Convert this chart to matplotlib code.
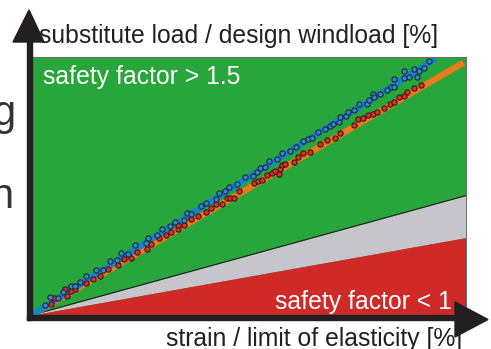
import matplotlib
matplotlib.use("Agg")
import matplotlib.pyplot as plt
from matplotlib.patches import Polygon

plt.rcParams['font.family'] = ['Liberation Sans', 'DejaVu Sans']

W, H = 491, 349

# measured points (strain %, load %)
blue_x = [3.1, 4.1, 6.1, 7.2, 9.1, 10.0, 11.1, 12.4, 14.7, 16.3, 17.9, 19.7, 20.4, 22.1, 23.8,
          26.7, 26.3, 28.7, 30.0, 31.8, 33.0, 35.0, 35.8, 36.6, 38.9, 40.0, 42.3, 43.2, 44.5, 45.3, 47.2,
          49.0, 50.9, 51.9, 52.5, 53.8, 54.7, 56.5, 57.7, 59.4, 60.8, 62.5, 63.6, 64.5, 65.9, 67.4, 68.6,
          69.3, 70.8, 71.0, 72.3, 72.8, 74.2, 75.3, 77.1, 77.6, 78.5, 78.8, 80.2, 81.8, 82.7, 83.4, 83.3,
          85.6, 85.6, 86.9, 88.0, 88.8, 89.2, 90.4, 91.4]
blue_y = [4.0, 7.1, 6.6, 8.8, 11.4, 11.4, 12.9, 15.0, 17.4, 17.6, 20.9, 21.4, 23.9, 23.6, 27.1,
          29.7, 27.9, 30.9, 33.5, 34.6, 36.0, 36.8, 39.4, 39.1, 42.4, 43.5, 44.8, 47.2, 47.9, 49.6, 50.9,
          53.6, 54.0, 55.6, 57.1, 57.4, 59.8, 60.6, 62.8, 63.7, 65.2, 67.6, 68.2, 68.6, 71.0, 72.1, 73.3,
          74.2, 74.9, 76.9, 77.0, 78.8, 79.6, 81.8, 81.8, 83.3, 85.7, 84.5, 85.5, 87.3, 88.4, 88.4, 91.5,
          92.0, 94.7, 92.2, 95.5, 92.4, 94.7, 95.9, 98.4]

red_x = [4.3, 5.1, 7.5, 8.1, 8.9, 9.8, 12.5, 14.0, 15.7, 17.6, 19.8, 21.3, 22.7, 24.3,
         26.5, 27.4, 29.2, 30.9, 32.0, 33.6, 33.6, 35.0, 36.7, 38.2, 40.1, 41.2, 42.4, 43.8, 44.9, 45.6,
         46.5, 47.8, 51.2, 52.0, 53.0, 54.1, 55.2, 55.9, 56.9, 57.1, 57.5, 58.4, 60.3, 61.2, 62.5, 64.1,
         66.4, 68.0, 69.8, 71.0, 74.1, 75.2, 76.3, 77.4, 78.6, 79.5, 81.0, 82.5, 83.3, 84.6, 85.8, 86.5,
         88.0, 89.7]
red_y = [4.4, 6.6, 10.1, 7.5, 9.2, 10.0, 12.4, 14.1, 15.2, 17.7, 19.5, 21.8, 22.0, 24.5,
         25.7, 27.5, 29.7, 31.0, 32.2, 33.3, 34.9, 35.0, 37.2, 38.5, 40.0, 41.6, 43.1, 43.1, 45.3, 45.3,
         45.3, 47.9, 51.0, 52.1, 52.4, 54.4, 55.2, 55.9, 54.8, 56.5, 58.3, 58.6, 59.2, 61.2, 62.7, 63.1,
         66.3, 67.9, 68.5, 70.4, 73.6, 75.9, 76.5, 77.6, 77.8, 78.8, 80.4, 81.7, 82.6, 84.5, 85.0, 86.6,
         88.1, 89.0]

# fitted lines (start, end)
blue_line_x = [0, 93.1]
blue_line_y = [0, 99.5]
orange_line_x = [0, 99.4]
orange_line_y = [0, 97.8]

# zone limits at x = 100
zone_x = [0, 100]
red_top = [0, 30.0]
gray_top = [0, 46.3]

fig = plt.figure(figsize=(W / 100, H / 100), dpi=100)
bx0, bx1, by0, by1 = 32, 466, 315, 57
ax = fig.add_axes([bx0 / W, 1 - by0 / H, (bx1 - bx0) / W, (by0 - by1) / H])
ax.set_xlim(0, 100)
ax.set_ylim(0, 100)
ax.set_facecolor('#27a63b')
ax.set_xticks([])
ax.set_yticks([])
for s in ax.spines.values():
    s.set_color('#707070')
    s.set_linewidth(0.8)

ax.fill_between(zone_x, red_top, gray_top, color='#c6c5cb', lw=0)
ax.fill_between(zone_x, [0, 0], red_top, color='#cf2a27', lw=0)
ax.plot(zone_x, gray_top, color='#231f20', lw=0.8)

ax.plot(orange_line_x, orange_line_y, color='#ec7a1c', lw=4.5, solid_capstyle='butt')
ax.plot(blue_line_x, blue_line_y, color='#1583cc', lw=4.5, solid_capstyle='butt')
ax.plot(red_x, red_y, 'o', ms=3.8, mfc='#d8302a', mec='#3a1a1a', mew=0.8)
ax.plot(blue_x, blue_y, 'o', ms=3.8, mfc='#2f86c8', mec='#1f2a36', mew=0.8)


def fx(x):
    return x / W


def fy(y):
    return 1 - y / H


dark = '#231f20'
fs = 17.8
# axis arrows
fig.add_artist(Polygon([(fx(27), fy(320)), (fx(32), fy(320)), (fx(32), fy(41)), (fx(27), fy(41))],
                       closed=True, color=dark, transform=fig.transFigure))
fig.add_artist(Polygon([(fx(13), fy(42)), (fx(44), fy(42)), (fx(29), fy(10))],
                       closed=True, color=dark, transform=fig.transFigure))
fig.add_artist(Polygon([(fx(27), fy(315)), (fx(456), fy(315)), (fx(456), fy(320)), (fx(27), fy(320))],
                       closed=True, color=dark, transform=fig.transFigure))
fig.add_artist(Polygon([(fx(455), fy(302)), (fx(455), fy(337)), (fx(488), fy(319.5))],
                       closed=True, color=dark, transform=fig.transFigure))

fig.text(fx(39), fy(43), 'substitute load / design windload [%]', fontsize=fs,
         color=dark, va='baseline', ha='left')
fig.text(fx(462), fy(346), 'strain / limit of elasticity [%]', fontsize=fs,
         color=dark, va='baseline', ha='right')
fig.text(fx(43), fy(84), 'safety factor > 1.5', fontsize=fs, color='white', va='baseline')
fig.text(fx(452), fy(309), 'safety factor < 1', fontsize=fs, color='white', va='baseline', ha='right')

# cut-off text at the left edge
fig.text(fx(15), fy(125), 'g', fontsize=30, color='#333333', va='baseline', ha='right')
fig.text(fx(13), fy(208), 'n', fontsize=30, color='#333333', va='baseline', ha='right')

fig.savefig('out.png', dpi=100)
